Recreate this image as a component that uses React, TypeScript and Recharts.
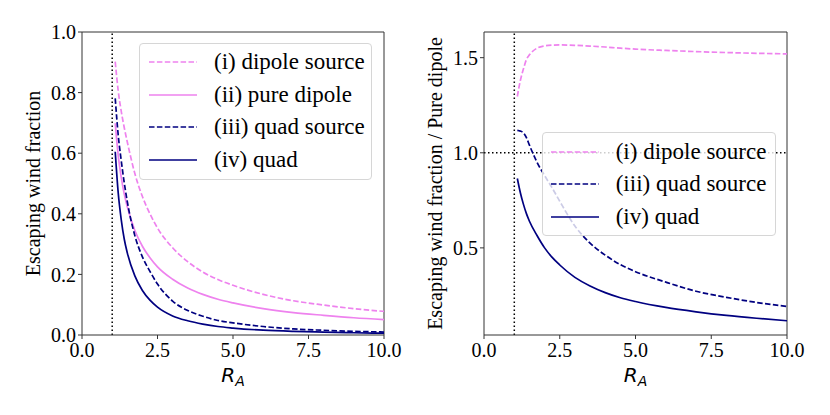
import React from "react";
import { LineChart, Line, XAxis, YAxis, ReferenceLine } from "recharts";

// R_A sample points
const xs = [1.1, 1.2, 1.3, 1.4, 1.5, 1.75, 2, 2.25, 2.5, 3, 3.5, 4, 4.5, 5, 6, 7, 8, 9, 10];

// left panel: escaping wind fraction
const dipoleSource = [0.902, 0.805, 0.738, 0.684, 0.637, 0.533, 0.457, 0.4, 0.353, 0.288, 0.242, 0.208, 0.183, 0.164, 0.134, 0.113, 0.099, 0.087, 0.078];
const pureDipole = [0.699, 0.592, 0.52, 0.465, 0.423, 0.345, 0.293, 0.255, 0.225, 0.184, 0.155, 0.134, 0.118, 0.106, 0.087, 0.074, 0.065, 0.057, 0.051];
const quadSource = [0.781, 0.659, 0.575, 0.502, 0.44, 0.328, 0.258, 0.21, 0.168, 0.112, 0.081, 0.062, 0.048, 0.04, 0.028, 0.02, 0.0156, 0.0121, 0.0098];
const quad = [0.605, 0.468, 0.38, 0.316, 0.271, 0.195, 0.147, 0.115, 0.092, 0.063, 0.047, 0.036, 0.028, 0.023, 0.016, 0.012, 0.0094, 0.0074, 0.006];

// right panel: ratio to pure dipole
const ratioDipoleSource = [1.296, 1.38, 1.44, 1.49, 1.515, 1.55, 1.562, 1.566, 1.567, 1.565, 1.561, 1.556, 1.55, 1.545, 1.538, 1.532, 1.527, 1.523, 1.52];
const ratioQuadSource = [1.118, 1.114, 1.105, 1.08, 1.04, 0.95, 0.88, 0.815, 0.745, 0.615, 0.525, 0.462, 0.412, 0.375, 0.32, 0.272, 0.24, 0.213, 0.192];
const ratioQuad = [0.865, 0.79, 0.73, 0.68, 0.64, 0.565, 0.5, 0.45, 0.41, 0.345, 0.3, 0.265, 0.238, 0.218, 0.187, 0.164, 0.145, 0.13, 0.117];

const xTicks = [0, 2.5, 5, 7.5, 10];
const leftYTicks = [0, 0.2, 0.4, 0.6, 0.8, 1.0];
const rightYTicks = [0.5, 1.0, 1.5];

const leftData = xs.map((x, i) => ({ x, i: dipoleSource[i], ii: pureDipole[i], iii: quadSource[i], iv: quad[i] }));
const rightData = xs.map((x, i) => ({ x, i: ratioDipoleSource[i], iii: ratioQuadSource[i], iv: ratioQuad[i] }));

const VIOLET = "#EE82EE";
const NAVY = "#000080";
const DASH = "5.5 2.4";
const SERIF = "Liberation Serif, serif";
const SPINE = "#333";
const LW = 1.7;

const leftSeries = [
  { key: "i", name: "(i) dipole source", color: VIOLET, dash: DASH },
  { key: "ii", name: "(ii) pure dipole", color: VIOLET, dash: undefined },
  { key: "iii", name: "(iii) quad source", color: NAVY, dash: DASH },
  { key: "iv", name: "(iv) quad", color: NAVY, dash: undefined },
];
const rightSeries = leftSeries.filter((s) => s.key !== "ii");

const tickStyle = { fontFamily: SERIF, fontSize: 20, fill: "#000" };

function RaLabel(props: any) {
  const { x, y, width } = props.viewBox;
  return (
    <text x={x + width / 2} y={y + 47} textAnchor="middle" fontFamily="DejaVu Sans, sans-serif" fontStyle="italic" fill="#000">
      <tspan fontSize={20}>R</tspan>
      <tspan fontSize={14} dy={4}>A</tspan>
    </text>
  );
}

function yLabel(text: string, cx: number) {
  return (props: any) => {
    const { y, height } = props.viewBox;
    const cy = y + height / 2;
    return (
      <text x={cx} y={cy} transform={`rotate(-90 ${cx} ${cy})`} textAnchor="middle" dominantBaseline="central" style={{ fontFamily: SERIF }} fontSize={20} fill="#000">
        {text}
      </text>
    );
  };
}

function LegendBox({ items, left, top, width, height, rowTop, sampleLeft, textLeft }: any) {
  return (
    <div
      style={{
        position: "absolute",
        left,
        top,
        width,
        height,
        boxSizing: "border-box",
        border: "1px solid #d6d6d6",
        borderRadius: 4,
        background: "rgba(255,255,255,0.8)",
        fontFamily: SERIF,
        fontSize: 23,
      }}
    >
      {items.map((s: any, k: number) => (
        <div key={s.key} style={{ position: "absolute", left: 0, top: rowTop + k * 32.5 - 16, height: 32, width: "100%" }}>
          <svg width={50} height={32} style={{ position: "absolute", left: sampleLeft, top: 0 }}>
            <line x1={0} y1={16} x2={48} y2={16} stroke={s.color} strokeWidth={LW} strokeDasharray={s.dash} />
          </svg>
          <span style={{ position: "absolute", left: textLeft, top: 0, lineHeight: "32px", whiteSpace: "nowrap" }}>{s.name}</span>
        </div>
      ))}
    </div>
  );
}

export default function App() {
  return (
    <div style={{ position: "absolute", left: 0, top: 0, width: 830, height: 415, background: "#fff", fontFamily: SERIF }}>
      {/* Left panel */}
      <div style={{ position: "absolute", left: 0, top: 0 }}>
        <LineChart width={415} height={415} data={leftData} margin={{ top: 32, right: 31, bottom: 0, left: 0 }} style={{ fontFamily: SERIF }}>
          <XAxis
            type="number"
            dataKey="x"
            domain={[0, 10]}
            ticks={xTicks}
            tickFormatter={(v: number) => v.toFixed(1)}
            tick={tickStyle}
            tickSize={4}
            tickMargin={4}
            height={80}
            axisLine={{ stroke: SPINE }}
            tickLine={{ stroke: SPINE }}
            allowDataOverflow
            label={{ content: RaLabel }}
          />
          <YAxis
            type="number"
            domain={[0, 1]}
            ticks={leftYTicks}
            tickFormatter={(v: number) => v.toFixed(1)}
            tick={tickStyle}
            tickSize={4}
            tickMargin={2}
            width={82}
            axisLine={{ stroke: SPINE }}
            tickLine={{ stroke: SPINE }}
            allowDataOverflow
            label={{ content: yLabel("Escaping wind fraction", 33) }}
          />
          <ReferenceLine y={1} stroke={SPINE} />
          <ReferenceLine x={10} stroke={SPINE} />
          <ReferenceLine x={1} stroke="#000" strokeWidth={1.5} strokeDasharray="1.5 2.5" />
          {leftSeries.map((s) => (
            <Line key={s.key} type="monotone" dataKey={s.key} stroke={s.color} strokeWidth={LW} strokeDasharray={s.dash} dot={false} isAnimationActive={false} />
          ))}
        </LineChart>
        <LegendBox items={leftSeries} left={139} top={43} width={233} height={137} rowTop={18} sampleLeft={9} textLeft={74} />
      </div>

      {/* Right panel */}
      <div style={{ position: "absolute", left: 415, top: 0, width: 415, height: 415 }}>
        <LineChart width={415} height={415} data={rightData} margin={{ top: 32, right: 43, bottom: 0, left: 0 }} style={{ fontFamily: SERIF }}>
          <XAxis
            type="number"
            dataKey="x"
            domain={[0, 10]}
            ticks={xTicks}
            tickFormatter={(v: number) => v.toFixed(1)}
            tick={tickStyle}
            tickSize={4}
            tickMargin={4}
            height={80}
            axisLine={{ stroke: SPINE }}
            tickLine={{ stroke: SPINE }}
            allowDataOverflow
            label={{ content: RaLabel }}
          />
          <YAxis
            type="number"
            domain={[0.042, 1.635]}
            ticks={rightYTicks}
            tickFormatter={(v: number) => v.toFixed(1)}
            tick={tickStyle}
            tickSize={4}
            tickMargin={2}
            width={69}
            axisLine={{ stroke: SPINE }}
            tickLine={{ stroke: SPINE }}
            allowDataOverflow
            label={{ content: yLabel("Escaping wind fraction / Pure dipole", 20) }}
          />
          <ReferenceLine y={1.635} stroke={SPINE} />
          <ReferenceLine x={10} stroke={SPINE} />
          <ReferenceLine x={1} stroke="#000" strokeWidth={1.5} strokeDasharray="1.5 2.5" />
          <ReferenceLine y={1} stroke="#000" strokeWidth={1.5} strokeDasharray="1.5 2.5" />
          {rightSeries.map((s) => (
            <Line key={s.key} type="monotone" dataKey={s.key} stroke={s.color} strokeWidth={LW} strokeDasharray={s.dash} dot={false} isAnimationActive={false} />
          ))}
        </LineChart>
        <LegendBox items={rightSeries} left={126.7} top={131.7} width={234} height={104} rowTop={19} sampleLeft={8} textLeft={73} />
      </div>
    </div>
  );
}
